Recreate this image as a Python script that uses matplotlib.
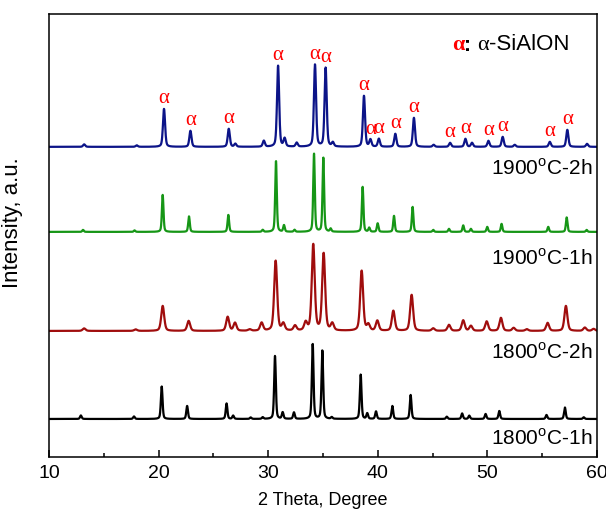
import numpy as np
import matplotlib.pyplot as plt

plt.rcParams['font.family'] = ['Liberation Sans', 'DejaVu Sans']

# Peak positions (2 theta) and heights, one set per sample
pos_1900_2h = [13.2, 18.0, 20.49, 22.9, 26.4, 27.0, 29.6, 30.9, 31.5, 32.6, 34.27, 35.24, 35.9,
               38.74, 39.33, 40.1, 41.6, 43.3, 45.1, 46.6, 48.0, 48.6, 50.1, 51.4, 52.5, 55.7, 57.3, 59.1]
hgt_1900_2h = [2.5, 1.5, 38, 16, 18, 3, 6, 81, 8, 4, 82, 79, 4,
               51, 7, 8, 13, 29, 2, 4, 8, 4, 6, 10, 2, 5, 17, 3]

pos_1900_1h = [13.1, 17.8, 20.37, 22.77, 26.36, 29.5, 30.71, 31.44, 32.4, 34.18, 35.03, 35.7,
               38.62, 39.22, 39.99, 41.48, 43.18, 45.06, 46.5, 47.8, 48.5, 49.99, 51.3, 55.56, 57.24, 59.06]
hgt_1900_1h = [2, 1.5, 37, 15.5, 17, 2, 71, 6.5, 2, 78, 74, 3,
               45, 4, 8.5, 16, 25, 2, 3, 6.5, 3, 5, 8, 5, 14.5, 2]

pos_1800_2h = [13.2, 17.9, 20.37, 22.74, 26.3, 26.97, 28.3, 29.4, 30.68, 31.38, 32.45, 33.42, 34.11,
               35.06, 35.85, 38.53, 39.14, 39.96, 41.42, 43.09, 45.06, 46.5, 47.8, 48.5, 49.94, 51.24,
               52.4, 53.6, 55.5, 57.17, 58.9, 59.7]
hgt_1800_2h = [2.5, 1.5, 25, 10, 14, 8, 1.5, 8, 70, 7, 5, 8, 86,
               77, 7, 60, 6, 10, 20, 36, 2.5, 6, 10.5, 5, 9.5, 13,
               3, 1.7, 8, 25, 3.3, 2]

pos_1800_1h = [12.9, 17.75, 20.28, 22.6, 26.2, 26.8, 28.4, 29.5, 30.62, 31.32, 32.35, 34.06, 34.94,
               35.8, 38.44, 39.04, 39.84, 41.33, 43.0, 46.3, 47.7, 48.35, 49.84, 51.09, 55.4, 57.08, 58.8]
hgt_1800_1h = [3.5, 2.5, 32.5, 13, 15.5, 3.3, 1.5, 1.7, 63, 6.5, 6.5, 75, 68.5,
               1.7, 44.5, 5.5, 7.5, 13, 24, 2.3, 5.5, 3.3, 5, 8, 4, 11.5, 1.7]

# peaks marked with alpha on the top pattern
alpha_peaks = [20.49, 22.9, 26.4, 30.9, 34.27, 35.24, 38.74, 39.33, 40.1, 41.6, 43.3,
               46.6, 48.0, 50.1, 51.4, 55.7, 57.3]

samples = ['1800$^{\\mathregular{o}}$C-1h', '1800$^{\\mathregular{o}}$C-2h',
           '1900$^{\\mathregular{o}}$C-1h', '1900$^{\\mathregular{o}}$C-2h']


def profile(x, pos, hgt, fwhm):
    # pseudo-voigt sum of peaks
    y = np.zeros_like(x)
    for p, h in zip(pos, hgt):
        g = np.exp(-4 * np.log(2) * ((x - p) / fwhm) ** 2)
        l = 1 / (1 + 4 * ((x - p) / fwhm) ** 2)
        y += h * (0.6 * g + 0.4 * l)
    return y


x = np.linspace(10, 60, 3001)

fig = plt.figure(figsize=(6.06, 5.10), dpi=100)
ax = fig.add_axes([0.081, 0.102, 0.904, 0.869])

# (pos, heights, offset, width, colour)
patterns = [
    (pos_1800_1h, hgt_1800_1h, 38, 0.18, '#000000'),
    (pos_1800_2h, hgt_1800_2h, 126, 0.32, '#a00d0d'),
    (pos_1900_1h, hgt_1900_1h, 225, 0.17, '#169616'),
    (pos_1900_2h, hgt_1900_2h, 310, 0.23, '#0c1488'),
]
label_y = [20, 106, 200, 290]

for (pos, hgt, off, w, col), name, ly in zip(patterns, samples, label_y):
    ax.plot(x, off + profile(x, pos, hgt, w), color=col, lw=1.6)
    ax.text(59.6, ly, name, ha='right', va='center', fontsize=15)

# alpha markers above the top pattern
pos, hgt, off, w, col = patterns[3]
for p in alpha_peaks:
    top = off + profile(np.array([p]), pos, hgt, w)[0]
    ax.annotate('α', xy=(p, top), xytext=(0, 1), textcoords='offset points',
                ha='center', va='bottom', color='red', fontsize=15, family='Liberation Serif')

# key in the upper right corner
t1 = ax.text(0.735, 0.92, 'α', transform=ax.transAxes, color='red', fontsize=16,
             family='Liberation Serif', fontweight='bold', va='baseline')
t2 = ax.annotate(': ', xy=(1, 0), xycoords=t1, va='bottom', fontsize=15, fontweight='bold')
t3 = ax.annotate('α', xy=(1, 0), xycoords=t2, va='bottom', fontsize=16, family='Liberation Serif')
ax.annotate('-SiAlON', xy=(1, 0), xycoords=t3, va='bottom', fontsize=16)

ax.set_xlim(10, 60)
ax.set_ylim(0, 443)
ax.set_yticks([])
ax.set_xticks([10, 20, 30, 40, 50, 60])
ax.set_xticks([15, 25, 35, 45, 55], minor=True)
ax.tick_params(axis='x', which='major', direction='in', length=5, width=1.1, labelsize=14, pad=5)
ax.tick_params(axis='x', which='minor', direction='in', length=3, width=1.1)
for s in ax.spines.values():
    s.set_linewidth(1.1)

ax.set_xlabel('2 Theta, Degree', fontsize=13, labelpad=7)
ax.set_ylabel('Intensity, a.u.', fontsize=16)
ax.yaxis.set_label_coords(-0.048, 0.53)

fig.savefig('out.png', dpi=100)
